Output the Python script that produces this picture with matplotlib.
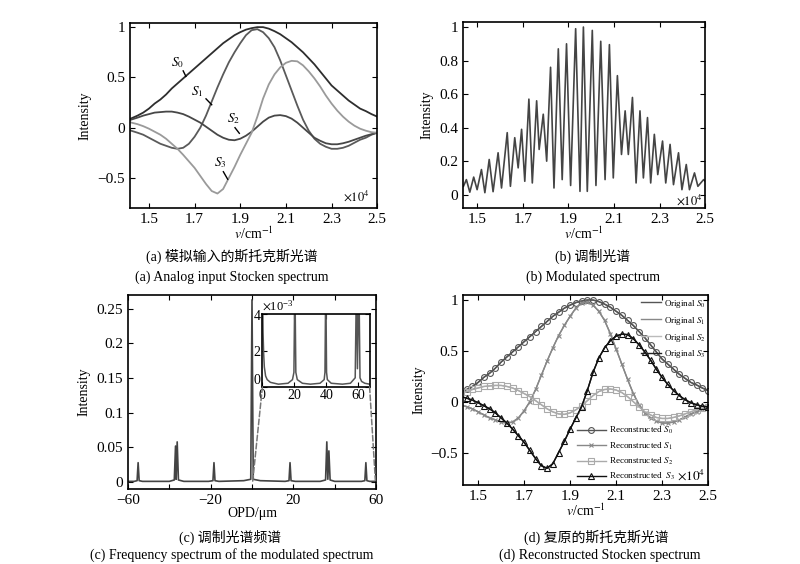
import numpy as np
import matplotlib
matplotlib.use('Agg')
import matplotlib.pyplot as plt
from matplotlib.patches import ConnectionPatch
from matplotlib.ticker import FuncFormatter, ScalarFormatter

# wavenumber grid (x 10^4 cm^-1) and the four Stokes spectra
wn = [1.415, 1.45, 1.475, 1.50, 1.525, 1.55, 1.575, 1.60, 1.625, 1.65, 1.675,
      1.70, 1.725, 1.75, 1.775, 1.80, 1.825, 1.85, 1.875, 1.90, 1.925, 1.95,
      1.975, 2.00, 2.025, 2.05, 2.075, 2.10, 2.125, 2.15, 2.175, 2.20, 2.225,
      2.25, 2.275, 2.30, 2.325, 2.35, 2.375, 2.40, 2.425, 2.45, 2.475, 2.50]
s0 = [0.085, 0.12, 0.15, 0.19, 0.24, 0.28, 0.33, 0.39, 0.44, 0.49, 0.54,
      0.59, 0.64, 0.69, 0.74, 0.79, 0.84, 0.88, 0.92, 0.95, 0.975, 0.99,
      1.0, 1.0, 0.985, 0.96, 0.93, 0.89, 0.85, 0.80, 0.75, 0.69, 0.63,
      0.56, 0.49, 0.42, 0.37, 0.32, 0.27, 0.23, 0.19, 0.165, 0.135, 0.11]
s1 = [-0.025, -0.05, -0.07, -0.10, -0.13, -0.16, -0.18, -0.20, -0.21, -0.20, -0.16,
      -0.09, 0.00, 0.12, 0.26, 0.40, 0.53, 0.65, 0.75, 0.84, 0.92, 0.97,
      0.98, 0.95, 0.89, 0.80, 0.67, 0.52, 0.37, 0.22, 0.08, -0.03, -0.11,
      -0.16, -0.19, -0.21, -0.21, -0.20, -0.18, -0.15, -0.12, -0.10, -0.07, -0.05]
s2 = [0.075, 0.10, 0.12, 0.135, 0.15, 0.155, 0.16, 0.16, 0.15, 0.135, 0.11,
      0.08, 0.05, 0.01, -0.03, -0.07, -0.10, -0.12, -0.125, -0.11, -0.08, -0.04,
      0.01, 0.06, 0.10, 0.12, 0.125, 0.115, 0.09, 0.05, 0.00, -0.05, -0.10,
      -0.13, -0.155, -0.165, -0.165, -0.155, -0.14, -0.12, -0.10, -0.08, -0.065, -0.05]
s3 = [0.055, 0.035, 0.015, -0.01, -0.04, -0.07, -0.11, -0.16, -0.21, -0.27, -0.335,
      -0.40, -0.48, -0.56, -0.63, -0.655, -0.61, -0.50, -0.39, -0.27, -0.16, -0.05,
      0.11, 0.29, 0.43, 0.53, 0.60, 0.645, 0.665, 0.66, 0.62, 0.56, 0.49,
      0.41, 0.32, 0.24, 0.17, 0.11, 0.06, 0.02, -0.01, -0.03, -0.045, -0.05]

# modulated spectrum, panel (b): peaks and troughs
mod_wn = [1.44, 1.453, 1.468, 1.485, 1.500, 1.519, 1.534, 1.553, 1.570, 1.592, 1.607,
          1.632, 1.646, 1.665, 1.680, 1.695, 1.709, 1.727, 1.742, 1.761, 1.772,
          1.790, 1.805, 1.822, 1.837, 1.856, 1.873, 1.892, 1.910, 1.932, 1.951,
          1.966, 1.983, 2.005, 2.021, 2.042, 2.061, 2.080, 2.097, 2.115, 2.133,
          2.149, 2.163, 2.181, 2.197, 2.214, 2.229, 2.247, 2.261, 2.277, 2.292,
          2.313, 2.327, 2.346, 2.361, 2.383, 2.398, 2.417, 2.431, 2.453, 2.468,
          2.493, 2.50]
mod_int = [0.05, 0.09, 0.015, 0.105, 0.03, 0.15, 0.012, 0.21, 0.018, 0.25, 0.04,
           0.37, 0.05, 0.34, 0.16, 0.39, 0.08, 0.57, 0.07, 0.56, 0.27,
           0.48, 0.20, 0.76, 0.04, 0.87, 0.09, 0.90, 0.055, 0.99, 0.02,
           1.0, 0.02, 0.98, 0.055, 0.915, 0.09, 0.895, 0.10, 0.71, 0.24,
           0.50, 0.24, 0.58, 0.07, 0.50, 0.10, 0.46, 0.07, 0.36, 0.12,
           0.32, 0.07, 0.30, 0.06, 0.25, 0.03, 0.18, 0.03, 0.13, 0.05,
           0.09, 0.08]

# frequency spectrum, panel (c)
opd = [-60, -57, -55.6, -55.1, -54.6, -53, -40, -37.6, -37.0, -36.7, -36.2, -35.6, -33,
       -21, -18.9, -18.4, -17.9, -16, -4, -0.6, 0.0, 0.6, 4, 16, 17.9, 18.4, 18.9, 21,
       33, 35.6, 36.2, 36.7, 37.2, 37.8, 40, 53, 54.6, 55.1, 55.6, 57, 60]
spec = [0.001, 0.001, 0.002, 0.028, 0.002, 0.001, 0.001, 0.003, 0.052, 0.004, 0.058, 0.003, 0.001,
        0.001, 0.002, 0.028, 0.002, 0.001, 0.002, 0.004, 0.263, 0.004, 0.002, 0.001, 0.002, 0.028, 0.002, 0.001,
        0.001, 0.003, 0.058, 0.004, 0.045, 0.003, 0.001, 0.001, 0.002, 0.028, 0.002, 0.001, 0.001]
# zoomed inset (values in units of 1e-3)
inset_opd = [0.0, 0.4, 0.8, 1.2, 2.0, 3.0, 5.0, 10.0, 16.0, 18.8, 19.7, 20.3, 20.9, 21.8,
             25.0, 30.0, 36.0, 38.6, 39.1, 39.6, 40.1, 40.6, 43.0, 50.0, 55.0,
             58.0, 58.8, 59.4, 60.3, 61.0, 62.0, 64.0, 67.0]
inset_e3 = [6.0, 3.0, 1.8, 1.1, 0.6, 0.4, 0.25, 0.15, 0.2, 0.4, 0.8, 6.0, 0.8, 0.4,
            0.2, 0.15, 0.2, 0.4, 0.8, 6.0, 0.8, 0.4, 0.2, 0.15, 0.2,
            0.5, 6.0, 1.0, 6.0, 0.5, 0.3, 0.2, 0.15]

plt.rcParams['font.family'] = ['Liberation Serif', 'Noto Sans CJK SC']
plt.rcParams['mathtext.fontset'] = 'stix'
plt.rcParams['font.size'] = 10
for a in ('xtick', 'ytick'):
    plt.rcParams[a + '.direction'] = 'in'
    plt.rcParams[a + '.major.size'] = 3.5
    plt.rcParams[a + '.major.width'] = 0.8
    plt.rcParams[a + '.labelsize'] = 11
plt.rcParams['xtick.top'] = True
plt.rcParams['ytick.right'] = True
plt.rcParams['axes.linewidth'] = 1.2


def gfmt(v, pos):
    return f'{v:g}'.replace('-', '\u2212')


fig = plt.figure(figsize=(8, 5.64), dpi=100)
ax_a = fig.add_axes([0.1625, 0.631, 0.309, 0.328])
ax_b = fig.add_axes([0.579, 0.631, 0.3025, 0.330])
ax_c = fig.add_axes([0.160, 0.133, 0.310, 0.344])
ax_d = fig.add_axes([0.579, 0.140, 0.306, 0.337])

wn_ticks = [1.5, 1.7, 1.9, 2.1, 2.3, 2.5]
xlab = r'$v$/cm$^{-1}$'

# (a)
cols_a = ['#2e2e2e', '#5a5a5a', '#474747', '#9a9a9a']
for s, c in zip([s0, s1, s2, s3], cols_a):
    ax_a.plot(wn, s, color=c, lw=1.3)
ax_a.set_xlim(1.417, 2.5)
ax_a.set_ylim(-0.8, 1.04)
ax_a.set_xticks(wn_ticks)
ax_a.set_yticks([-0.5, 0, 0.5, 1])
ax_a.xaxis.set_major_formatter(FuncFormatter(gfmt))
ax_a.yaxis.set_major_formatter(FuncFormatter(gfmt))
ax_a.set_xlabel(xlab, labelpad=0)
ax_a.set_ylabel('Intensity')
ax_a.text(0.97, 0.04, r'$\times10^4$', transform=ax_a.transAxes, ha='right', fontsize=9)
labels_a = [('$S_0$', (1.627, 0.65), (1.650, 0.565), (1.662, 0.51)),
            ('$S_1$', (1.712, 0.36), (1.750, 0.287), (1.775, 0.228)),
            ('$S_2$', (1.870, 0.09), (1.877, 0.0), (1.896, -0.056)),
            ('$S_3$', (1.811, -0.35), (1.826, -0.438), (1.845, -0.513))]
for t, p, q0, q1 in labels_a:
    ax_a.text(p[0], p[1], t, ha='center', va='center', fontsize=9.5)
    ax_a.plot([q0[0], q1[0]], [q0[1], q1[1]], color='black', lw=1.0)

# (b)
ax_b.plot(mod_wn, mod_int, color='#444444', lw=1.2)
ax_b.set_xlim(1.439, 2.5)
ax_b.set_ylim(-0.08, 1.03)
ax_b.set_xticks(wn_ticks)
ax_b.set_yticks([0, 0.2, 0.4, 0.6, 0.8, 1])
ax_b.xaxis.set_major_formatter(FuncFormatter(gfmt))
ax_b.yaxis.set_major_formatter(FuncFormatter(gfmt))
ax_b.set_xlabel(xlab, labelpad=0)
ax_b.set_ylabel('Intensity')
ax_b.text(0.99, 0.02, r'$\times10^4$', transform=ax_b.transAxes, ha='right', fontsize=9)

# (c)
ax_c.plot(opd, spec, color='#444444', lw=1.2)
ax_c.set_xlim(-60, 60)
ax_c.set_ylim(-0.01, 0.27)
ax_c.set_xticks([-60, -40, -20, 0, 20, 40, 60])
ax_c.set_xticklabels(['\u221260', '', '\u221220', '', '20', '', '60'])
ax_c.set_yticks([0, 0.05, 0.1, 0.15, 0.2, 0.25])
ax_c.yaxis.set_major_formatter(FuncFormatter(gfmt))
ax_c.set_xlabel('OPD/\u03bcm', labelpad=0)
ax_c.set_ylabel('Intensity')

axins = fig.add_axes([0.328, 0.314, 0.134, 0.129])
axins.plot(inset_opd, np.array(inset_e3) * 1e-3, color='#555555', lw=1.1)
axins.set_xlim(0, 67)
axins.set_ylim(0, 0.004)
axins.set_xticks([0, 20, 40, 60])
axins.set_yticks([0, 0.002, 0.004])
sf = ScalarFormatter(useMathText=True)
sf.set_powerlimits((-2, 2))
axins.yaxis.set_major_formatter(sf)
axins.tick_params(axis='x', labelsize=10, pad=1.5)
axins.tick_params(axis='y', labelsize=10, pad=0.5)
axins.yaxis.get_offset_text().set_fontsize(9)
axins.get_yticklabels()[0].set_va('bottom')
for xa, xb in [((0, 0), (0.3, 0.0)), ((1, 0), (59.7, 0.002))]:
    con = ConnectionPatch(xyA=xa, coordsA=axins.transAxes, xyB=xb, coordsB=ax_c.transData,
                          color='#777777', ls='--', lw=1.1)
    fig.add_artist(con)

# (d)
orig_cols = ['#555555', '#888888', '#bbbbbb', '#222222']
orig_names = ['Original $S_0$', 'Original $S_1$', 'Original $S_2$', 'Original $S_3$']
rec_names = ['Reconstructed $S_0$', 'Reconstructed $S_1$', 'Reconstructed $S_2$',
             'Reconstructed  $S_3$']
rec_marks = [('o', 4.2, '#555555'), ('x', 3.0, '#888888'), ('s', 3.8, '#aaaaaa'),
             ('^', 4.2, '#111111')]
h_orig, h_rec = [], []
for s, c in zip([s0, s1, s2, s3], orig_cols):
    h_orig += ax_d.plot(wn, s, color=c, lw=1.0)
for s, (m, ms, c) in zip([s0, s1, s2, s3], rec_marks):
    h_rec += ax_d.plot(wn, s, color=c, lw=1.0, marker=m, ms=ms, mfc='none', mew=0.8)
ax_d.set_xlim(1.435, 2.5)
ax_d.set_ylim(-0.82, 1.05)
ax_d.set_xticks(wn_ticks)
ax_d.set_yticks([-0.5, 0, 0.5, 1])
ax_d.xaxis.set_major_formatter(FuncFormatter(gfmt))
ax_d.yaxis.set_major_formatter(FuncFormatter(gfmt))
ax_d.set_xlabel(xlab, labelpad=0)
ax_d.set_ylabel('Intensity')
leg1 = ax_d.legend(h_orig, orig_names, loc='upper right', bbox_to_anchor=(1.01, 1.01),
                   frameon=False, fontsize=6.5, handlelength=2.2, labelspacing=0.55,
                   handletextpad=0.4, borderaxespad=0.1)
ax_d.add_artist(leg1)
ax_d.legend(h_rec, rec_names, loc='lower right', bbox_to_anchor=(0.885, -0.01),
            frameon=False, fontsize=6.6, handlelength=3.1, labelspacing=0.45,
            handletextpad=0.4, borderaxespad=0.1)
ax_d.text(0.99, 0.03, r'$\times10^4$', transform=ax_d.transAxes, ha='right', fontsize=9.5)

# captions
caps = [(0.290, 0.545, '(a) 模拟输入的斯托克斯光谱'),
        (0.290, 0.509, '(a) Analog input Stocken spectrum'),
        (0.741, 0.545, '(b) 调制光谱'),
        (0.741, 0.509, '(b) Modulated spectrum'),
        (0.288, 0.048, '(c) 调制光谱频谱'),
        (0.290, 0.016, '(c) Frequency spectrum of the modulated spectrum'),
        (0.746, 0.048, '(d) 复原的斯托克斯光谱'),
        (0.750, 0.016, '(d) Reconstructed Stocken spectrum')]
for x, y, t in caps:
    fig.text(x, y, t, ha='center', va='center', fontsize=10)

fig.savefig('out.png', dpi=100, facecolor='white')
